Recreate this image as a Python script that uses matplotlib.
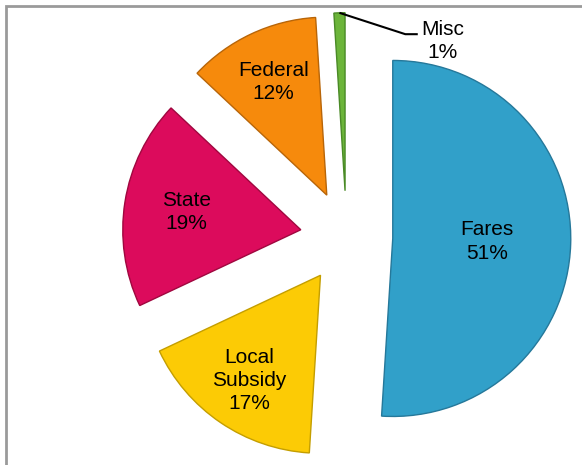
import numpy as np
import matplotlib
matplotlib.use("Agg")
import matplotlib.pyplot as plt
from matplotlib.patches import Rectangle

plt.rcParams['font.family'] = ['Liberation Sans', 'DejaVu Sans']

# data
sources = ["Fares", "Local\nSubsidy", "State", "Federal", "Misc"]
shares = [51, 17, 19, 12, 1]
colors = ["#31a0c9", "#fccb05", "#dc0b5c", "#f68a0c", "#6cb53a"]
edges = ["#25789a", "#c49e00", "#a0073f", "#b86508", "#4a8a26"]

# how far from the exploded wedge centre each inside label sits (radius units)
label_dist = [0.53, 0.715, 0.65, 0.70]

fig = plt.figure(figsize=(5.82, 4.65), dpi=100)
ax = fig.add_axes([0, 0, 1, 1])

wedges, _ = ax.pie(shares, colors=colors, explode=[0.26] * len(shares),
                   startangle=90, counterclock=False, radius=1.0,
                   wedgeprops=dict(linewidth=1.0))
for w, ec in zip(wedges, edges):
    w.set_edgecolor(ec)

# inside labels
for i, w in enumerate(wedges[:-1]):
    mid = np.deg2rad((w.theta1 + w.theta2) / 2)
    cx, cy = w.center
    x = cx + label_dist[i] * np.cos(mid)
    y = cy + label_dist[i] * np.sin(mid)
    ax.text(x, y, f"{sources[i]}\n{shares[i]}%", ha="center", va="center",
            fontsize=15, linespacing=1.28, color="black")

# Misc gets a leader line
w = wedges[-1]
mid = np.deg2rad((w.theta1 + w.theta2) / 2)
cx, cy = w.center
tip = (cx + np.cos(mid), cy + np.sin(mid))
elbow = (tip[0] + 0.37, tip[1] - 0.12)
end = (elbow[0] + 0.07, elbow[1])
ax.plot([tip[0], elbow[0], end[0]], [tip[1], elbow[1], end[1]],
        color="black", lw=1.5, solid_capstyle="butt")
ax.text(end[0] + 0.14, end[1] - 0.04, f"{sources[-1]}\n{shares[-1]}%",
        ha="center", va="center", fontsize=15, linespacing=1.28)

# pie centre sits at pixel (346.5, 237), radius 178 px
scale = 178.0
ax.set_xlim(-346.5 / scale, (582 - 346.5) / scale)
ax.set_ylim(-(465 - 237) / scale, 237 / scale)
ax.set_aspect("equal")
ax.axis("off")

# grey chart frame, cut by the right and bottom edges
fig.patches.append(Rectangle((6 / 582, -0.1), 1.2, 1.1 - 6 / 465,
                             transform=fig.transFigure, fill=False,
                             edgecolor="#9a9a9a", lw=2))

fig.savefig("out.png", dpi=100)
